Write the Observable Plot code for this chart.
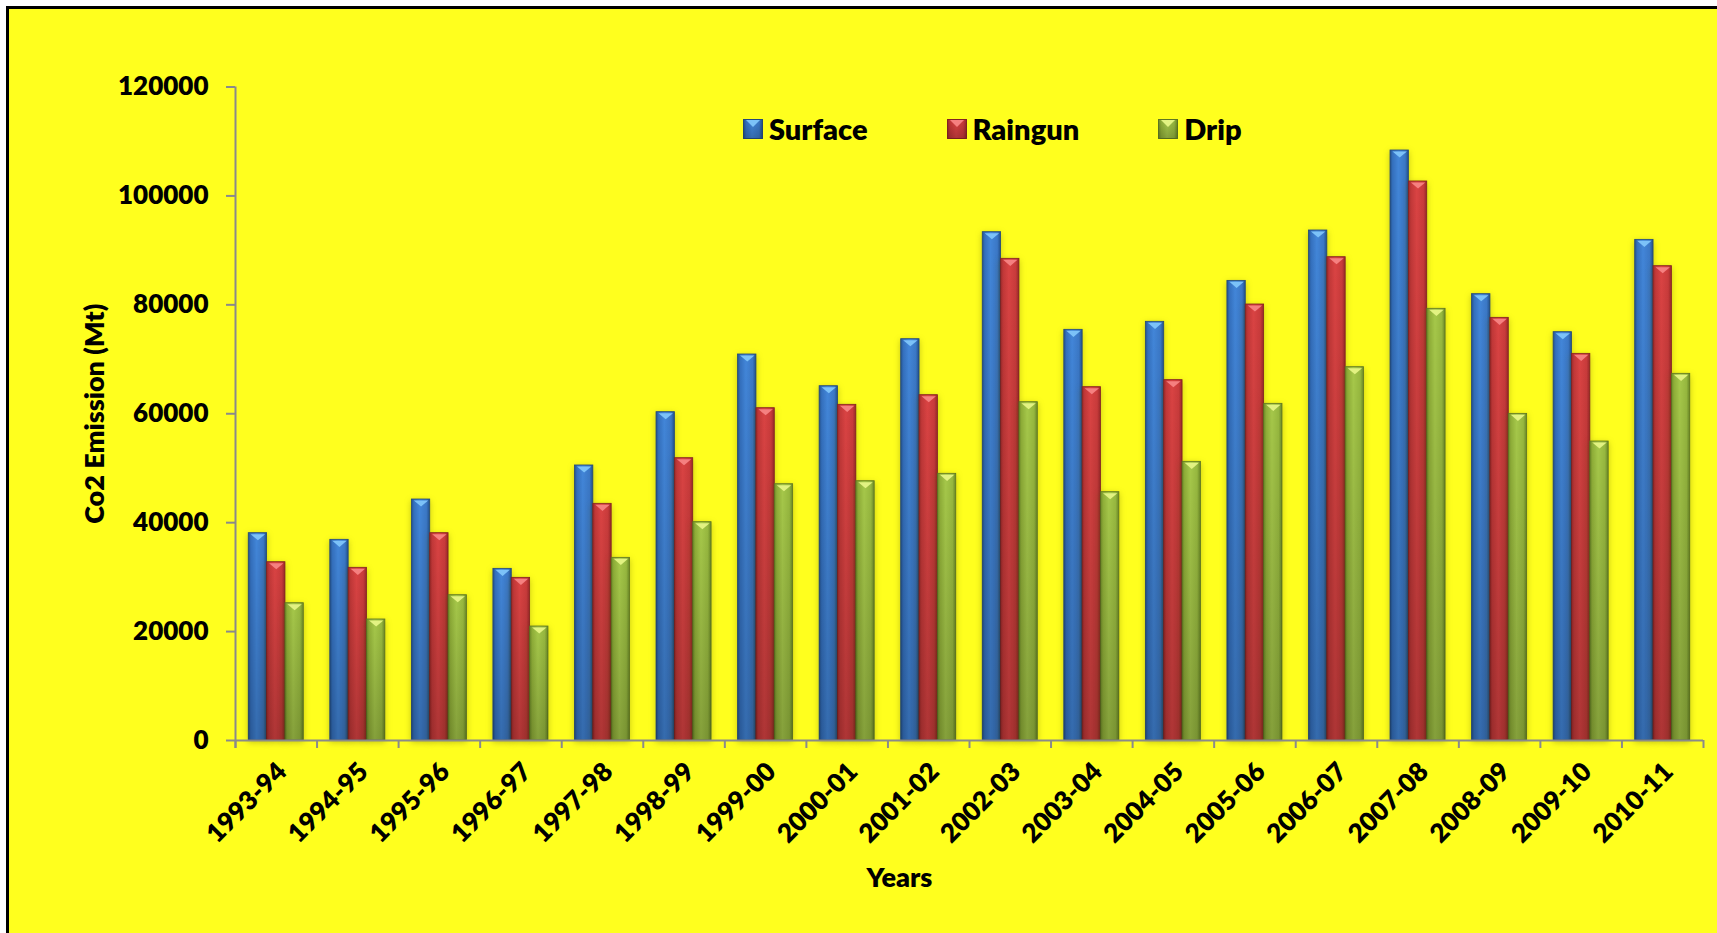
<!DOCTYPE html>
<html>
<head>
<meta charset="utf-8">
<script src="https://cdn.jsdelivr.net/npm/d3@7"></script>
<script src="https://cdn.jsdelivr.net/npm/@observablehq/plot@0.6"></script>
<style>
  html, body { margin: 0; padding: 0; background: #ffffff; }
  body { width: 1717px; height: 933px; overflow: hidden; position: relative; font-family: Lato, "Open Sans", sans-serif; }
  #panel { position: absolute; left: 6px; top: 6px; width: 1730px; height: 950px; border: 3px solid #000; background: #ffff1e; }
  #chart { position: absolute; left: 0; top: 0; }
  #legend { position: absolute; left: 743px; top: 111px; display: flex; align-items: center; font-weight: 800; font-size: 29px; color: #000; }
  #legend .item { display: flex; align-items: center; margin-right: 79px; }
  #legend svg { margin-right: 6px; }
</style>
</head>
<body>
<div id="panel"></div>
<div id="chart"></div>
<div id="legend"></div>
<script>
// Season labels and CO2 emissions (Mt) by irrigation method
const years = ["1993-94", "1994-95", "1995-96", "1996-97", "1997-98", "1998-99", "1999-00", "2000-01", "2001-02",
               "2002-03", "2003-04", "2004-05", "2005-06", "2006-07", "2007-08", "2008-09", "2009-10", "2010-11"];
const surface = [38070, 36850, 44250, 31520, 50500, 60290, 70880, 65060, 73690,
                 93340, 75410, 76880, 84400, 93650, 108340, 81960, 74980, 91930];
const raingun = [32740, 31710, 38070, 29870, 43460, 51840, 61020, 61640, 63410,
                 88450, 64880, 66170, 80060, 88750, 102650, 77610, 71000, 87100];
const drip    = [25210, 22220, 26680, 20930, 33540, 40090, 47060, 47610, 48970,
                 62120, 45600, 51170, 61820, 68550, 79270, 59980, 54900, 67330];
const seriesNames = ["Surface", "Raingun", "Drip"];
const yTicks = [0, 20000, 40000, 60000, 80000, 100000, 120000];
const yTitle = "Co2 Emission (Mt)";
const xTitle = "Years";

// Styling
const gradientStops = [
  ["#24528c", "#3470be", "#4286d9", "#3b78c6", "#22508a"],
  ["#9c2a2a", "#c23838", "#da4343", "#c93b3b", "#982828"],
  ["#6c8a28", "#8fae38", "#a6c84a", "#97b83f", "#6a8726"]
];
const capColors = ["#7cc2f8", "#f58080", "#e2f282"];
const edgeColors = ["#24497a", "#842222", "#5e7622"];
const axisColor = "#8a8a8a";

const W = 1717, H = 933;
const margin = {left: 235, right: 14, top: 86.5, bottom: 193};
const bw = (W - margin.left - margin.right) / years.length;
const groupFrac = 0.675;
const barW = bw * groupFrac / 3;
const groupStart = bw * (1 - groupFrac) / 2;

const seriesValues = [surface, raingun, drip];
const rows = seriesNames.map((name, k) => years.map((year, i) => ({year, series: name, value: seriesValues[k][i]})));

// Flat triangular highlight drawn on top of each bar
const capSymbol = {
  draw(ctx, size) {
    const r = Math.sqrt(size / Math.PI);
    ctx.moveTo(-r, 0);
    ctx.lineTo(r, 0);
    ctx.lineTo(0, r * 0.85);
    ctx.closePath();
  }
};

const barMarks = seriesNames.map((name, k) => Plot.barY(rows[k], {
  x: "year", y: "value",
  fill: `url(#grad-${k})`,
  stroke: edgeColors[k], strokeWidth: 0.8,
  insetLeft: groupStart + k * barW,
  insetRight: bw - groupStart - (k + 1) * barW
}));
const shadeMarks = seriesNames.map((name, k) => Plot.barY(rows[k], {
  x: "year", y: "value",
  fill: "url(#shade)",
  insetLeft: groupStart + k * barW,
  insetRight: bw - groupStart - (k + 1) * barW
}));
const capMarks = seriesNames.map((name, k) => Plot.dot(rows[k], {
  x: "year", y: "value",
  symbol: capSymbol, r: barW / 2 - 2,
  fill: capColors[k], stroke: "none",
  dx: groupStart + (k + 0.5) * barW - bw / 2,
  dy: 1
}));

const chart = Plot.plot({
  width: W, height: H,
  marginLeft: margin.left, marginRight: margin.right, marginTop: margin.top, marginBottom: margin.bottom,
  style: {background: "transparent", fontFamily: "Lato, 'Open Sans', sans-serif", fontWeight: 800, fontSize: "26px", color: "#000"},
  x: {type: "band", domain: years, padding: 0, round: false, axis: null},
  y: {domain: [0, 120000], axis: null},
  marks: [
    ...barMarks,
    ...shadeMarks,
    ...capMarks,
    // axis lines and tick marks
    Plot.ruleY([0], {stroke: axisColor, strokeWidth: 2}),
    Plot.ruleX([years[0]], {dx: -bw / 2, stroke: axisColor, strokeWidth: 2, insetBottom: -8}),
    Plot.ruleX(years, {y1: 0, y2: 0, insetBottom: -8, dx: -bw / 2, stroke: axisColor, strokeWidth: 2}),
    Plot.ruleX([years[years.length - 1]], {y1: 0, y2: 0, insetBottom: -8, dx: bw / 2, stroke: axisColor, strokeWidth: 2}),
    Plot.axisY({ticks: yTicks, tickSize: 9, tickPadding: 18, stroke: axisColor, strokeWidth: 2,
                tickFormat: d => String(d), label: null, fill: "#000"}),
    Plot.axisX({tickSize: 0, tickPadding: 27, tickRotate: -45, dx: 6, label: null, fill: "#000"}),
    Plot.text([xTitle], {frameAnchor: "bottom", dy: 146, dx: -70, fill: "#000", fontSize: 27}),
    Plot.text([yTitle], {frameAnchor: "left", rotate: -90, dx: -140.5, textAnchor: "middle", fill: "#000", fontSize: 27})
  ]
});

// Gradient definitions used by the bars and legend swatches
const stopsHTML = (stops) => stops.map((c, i) => `<stop offset="${[0, 0.14, 0.45, 0.82, 1][i]}" stop-color="${c}"/>`).join("");
const defs = `<defs>
  ${gradientStops.map((s, k) => `<linearGradient id="grad-${k}" x1="0" x2="1" y1="0" y2="0">${stopsHTML(s)}</linearGradient>`).join("")}
  <linearGradient id="shade" x1="0" x2="0" y1="0" y2="1">
    <stop offset="0" stop-color="#000" stop-opacity="0"/>
    <stop offset="1" stop-color="#000" stop-opacity="0.2"/>
  </linearGradient>
</defs>`;
chart.insertAdjacentHTML("afterbegin", defs);
const barGroups = chart.querySelectorAll('g[aria-label="bar"]');
for (let k = 0; k < 3; k++) barGroups[k].style.filter = "drop-shadow(0px 2px 3px rgba(90,90,0,0.35))";

document.getElementById("chart").appendChild(chart);

// Legend
const legend = document.getElementById("legend");
seriesNames.forEach((name, k) => {
  const item = document.createElement("div");
  item.className = "item";
  if (k === seriesNames.length - 1) item.style.marginRight = "0";
  item.innerHTML = `<svg width="20" height="20" viewBox="0 0 20 20">
      <rect x="0.5" y="0.5" width="19" height="19" fill="url(#grad-${k})" stroke="${edgeColors[k]}" stroke-width="1"/>
      <rect x="0.5" y="0.5" width="19" height="19" fill="url(#shade)"/>
      <path d="M3,1 L17,1 L10,8 Z" fill="${capColors[k]}"/>
    </svg><span>${name}</span>`;
  legend.appendChild(item);
});
</script>
</body>
</html>
